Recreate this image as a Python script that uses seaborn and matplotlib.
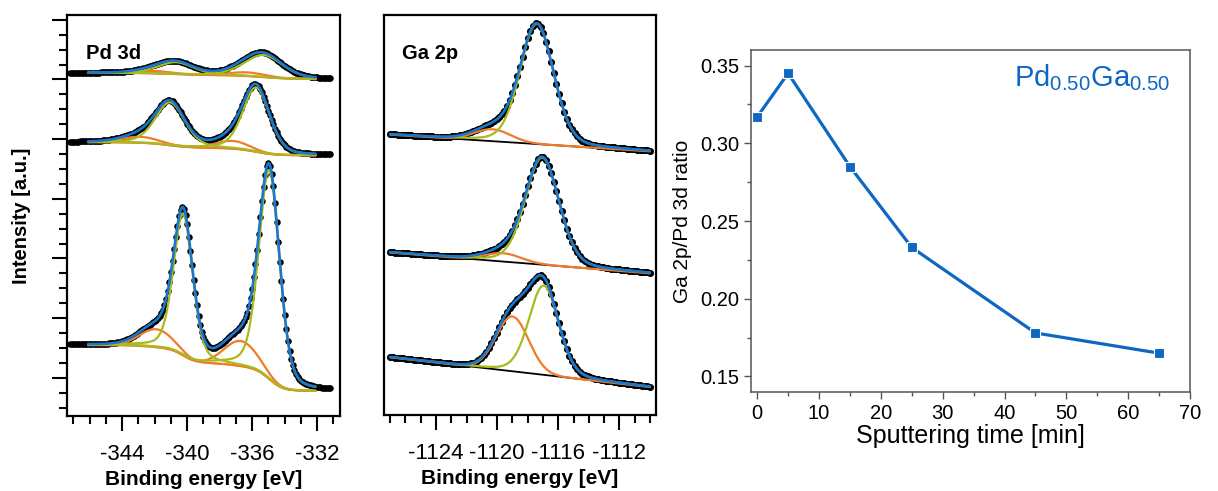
import numpy as np
import pandas as pd
import matplotlib
matplotlib.use("Agg")
import matplotlib.pyplot as plt
from matplotlib.ticker import MultipleLocator, NullFormatter
import seaborn as sns

# ---------------- data ----------------
# Pd 3d spectra, listed bottom -> top (offset stacked)
pd_bg_left = [0.55, 3.95, 5.11]
pd_bg_right = [-0.22, 3.73, 5.01]
pd_main_center = [[-340.25, -334.95], [-341.05, -335.75], [-340.70, -335.30]]
pd_main_amp = [[2.38, 3.50], [0.72, 1.08], [0.20, 0.37]]
pd_main_fwhm = [[1.40, 1.50], [2.15, 1.95], [2.60, 2.80]]
pd_sat_center = [[-341.9, -336.7], [-342.9, -337.2], [-342.1, -336.3]]
pd_sat_amp = [[0.30, 0.42], [0.10, 0.13], [0.04, 0.06]]
pd_sat_fwhm = [[2.4, 2.4], [2.6, 2.4], [2.6, 2.6]]

# Ga 2p spectra, listed bottom -> top
ga_bg_left = [0.33, 2.09, 4.07]
ga_bg_right = [-0.17, 1.74, 3.79]
ga_main_center = [-1116.95, -1117.05, -1117.40]
ga_main_amp = [1.50, 1.80, 2.02]
ga_main_fwhm = [2.3, 2.6, 2.6]
ga_sat_center = [-1119.0, -1119.6, -1120.3]
ga_sat_amp = [0.92, 0.14, 0.20]
ga_sat_fwhm = [2.5, 2.8, 2.8]

# Ga 2p / Pd 3d ratio vs. sputtering time
sputter_time = [0, 5, 15, 25, 45, 65]
ga_pd_ratio = [0.317, 0.345, 0.285, 0.233, 0.178, 0.165]

pd_ticks = [-344, -340, -336, -332]
ga_ticks = [-1124, -1120, -1116, -1112]
time_ticks = [0, 10, 20, 30, 40, 50, 60, 70]
ratio_ticks = [0.15, 0.20, 0.25, 0.30, 0.35]

# ---------------- style ----------------
sns.set_style("ticks")
plt.rcParams["font.family"] = ["Liberation Sans", "DejaVu Sans"]
plt.rcParams["mathtext.default"] = "regular"
for key in ["text.color", "axes.labelcolor", "xtick.labelcolor", "ytick.labelcolor"]:
    plt.rcParams[key] = "black"

C_FIT = "#1b76cc"
C_MAIN = "#a9bb1c"
C_SAT = "#ef7b2b"
C_RATIO = "#0f67c4"


def pvoigt(x, c, a, w, eta=0.3):
    g = np.exp(-4 * np.log(2) * ((x - c) / w) ** 2)
    l = 1.0 / (1.0 + 4 * ((x - c) / w) ** 2)
    return a * (eta * l + (1 - eta) * g)


def shirley(x, total, left, right):
    # integrated-step background from the summed peak area
    dx = np.gradient(x)
    cum = np.cumsum((total * dx)[::-1])[::-1]
    return right + (left - right) * cum / cum[0]


def linear_bg(x, total, left, right):
    return left + (right - left) * (x - x[0]) / (x[-1] - x[0])


def draw_spectrum(ax, x_fit, x_dat, bg_l, bg_r, mains, sats, dot_s, bg_color,
                  bg_func, eta):
    comps_fit = [pvoigt(x_fit, *m, eta=eta) for m in mains]
    sats_fit = [pvoigt(x_fit, *s, eta=0.0) for s in sats]
    tot_fit = np.sum(comps_fit + sats_fit, axis=0)
    bg = bg_func(x_fit, tot_fit, bg_l, bg_r)

    comps_dat = [pvoigt(x_dat, *m, eta=eta) for m in mains]
    sats_dat = [pvoigt(x_dat, *s, eta=0.0) for s in sats]
    tot_dat = np.sum(comps_dat + sats_dat, axis=0)
    bg_dat = np.interp(x_dat, x_fit, bg, left=bg_l, right=bg_r)

    sns.scatterplot(x=x_dat, y=bg_dat + tot_dat, ax=ax, s=dot_s, color="black",
                    linewidth=0, zorder=2)
    sns.lineplot(x=x_fit, y=bg, ax=ax, color=bg_color, lw=1.3, zorder=3)
    for s in sats_fit:
        sns.lineplot(x=x_fit, y=bg + s, ax=ax, color=C_SAT, lw=1.6, zorder=3)
    for m in comps_fit:
        sns.lineplot(x=x_fit, y=bg + m, ax=ax, color=C_MAIN, lw=1.6, zorder=4)
    sns.lineplot(x=x_fit, y=bg + tot_fit, ax=ax, color=C_FIT, lw=1.9, zorder=5)


def style_spectrum_axes(ax):
    for sp in ax.spines.values():
        sp.set_visible(True)
        sp.set_linewidth(1.6)
        sp.set_color("black")
    ax.tick_params(axis="x", which="major", length=11, width=1.5, labelsize=16, pad=9,
                   color="black")
    ax.tick_params(axis="x", which="minor", length=6, width=1.5, color="black")
    ax.xaxis.set_minor_locator(MultipleLocator(1))
    ax.set_ylim(-0.64, 6.08)
    ax.set_xlabel("Binding energy [eV]", fontsize=15, fontweight="bold", labelpad=4)
    ax.set_ylabel("")


fig = plt.figure(figsize=(12.18, 4.91), dpi=100)
ax1 = fig.add_axes([0.0550, 0.1527, 0.2241, 0.8167])
ax2 = fig.add_axes([0.3153, 0.1548, 0.2233, 0.8147])
ax3 = fig.add_axes([0.6166, 0.2016, 0.3604, 0.6965])

# ---- Pd 3d ----
x_fit = np.linspace(-346.1, -332.1, 700)
x_dat = np.arange(-347.2, -331.15, 0.1)
for i in range(3):
    mains = [(pd_main_center[i][k], pd_main_amp[i][k], pd_main_fwhm[i][k]) for k in range(2)]
    sats = [(pd_sat_center[i][k], pd_sat_amp[i][k], pd_sat_fwhm[i][k]) for k in range(2)]
    draw_spectrum(ax1, x_fit, x_dat, pd_bg_left[i], pd_bg_right[i], mains, sats, 22,
                  C_SAT, shirley, 0.3)
style_spectrum_axes(ax1)
ax1.set_xlim(-347.4, -330.6)
ax1.set_xticks(pd_ticks)
ax1.set_xticklabels([str(t) for t in pd_ticks])
ax1.yaxis.set_major_locator(MultipleLocator(1))
ax1.yaxis.set_minor_locator(MultipleLocator(0.25))
ax1.yaxis.set_major_formatter(NullFormatter())
ax1.tick_params(axis="y", which="major", length=11, width=1.5, color="black")
ax1.tick_params(axis="y", which="minor", length=6, width=1.5, color="black")
ax1.text(-346.2, 5.44, "Pd 3d", fontsize=14.5, fontweight="bold", va="center", ha="left")
fig.text(0.018, 0.56, "Intensity [a.u.]", rotation=90, fontsize=14.5, fontweight="bold",
         va="center", ha="center")

# ---- Ga 2p ----
x_fit = np.linspace(-1127.0, -1110.0, 700)
x_dat = np.arange(-1127.0, -1109.9, 0.17)
for i in range(3):
    mains = [(ga_main_center[i], ga_main_amp[i], ga_main_fwhm[i])]
    sats = [(ga_sat_center[i], ga_sat_amp[i], ga_sat_fwhm[i])]
    draw_spectrum(ax2, x_fit, x_dat, ga_bg_left[i], ga_bg_right[i], mains, sats, 26,
                  "black", linear_bg, 0.2)
style_spectrum_axes(ax2)
ax2.set_xlim(-1127.4, -1109.6)
ax2.set_xticks(ga_ticks)
ax2.set_xticklabels([str(t) for t in ga_ticks])
ax2.set_yticks([])
ax2.tick_params(axis="y", which="both", length=0)
ax2.text(-1126.2, 5.44, "Ga 2p", fontsize=14.5, fontweight="bold", va="center", ha="left")

# ---- ratio ----
ratio_df = pd.DataFrame({"time": sputter_time, "ratio": ga_pd_ratio})
sns.lineplot(data=ratio_df, x="time", y="ratio", ax=ax3, color=C_RATIO, lw=2.3,
             marker="s", markersize=7.5, markeredgecolor="white", markeredgewidth=0.8)
ax3.set_xlim(-1, 70)
ax3.set_ylim(0.14, 0.36)
ax3.set_xticks(time_ticks)
ax3.set_yticks(ratio_ticks)
ax3.set_yticklabels([f"{t:.2f}" for t in ratio_ticks])
ax3.xaxis.set_minor_locator(MultipleLocator(5))
ax3.yaxis.set_minor_locator(MultipleLocator(0.025))
for sp in ax3.spines.values():
    sp.set_visible(True)
    sp.set_linewidth(1.1)
    sp.set_color("#555555")
ax3.tick_params(axis="both", which="major", length=5, width=1, color="#555555",
                labelsize=14.5, labelcolor="black")
ax3.tick_params(axis="both", which="minor", length=3, width=1, color="#555555")
ax3.set_xlabel("Sputtering time [min]", fontsize=18, labelpad=1)
ax3.set_ylabel("Ga 2p/Pd 3d ratio", fontsize=15, labelpad=6)
ax3.text(0.955, 0.92, r"Pd$_{0.50}$Ga$_{0.50}$", transform=ax3.transAxes, color=C_RATIO,
         fontsize=21, ha="right", va="center")

fig.savefig("out.png", dpi=100)
